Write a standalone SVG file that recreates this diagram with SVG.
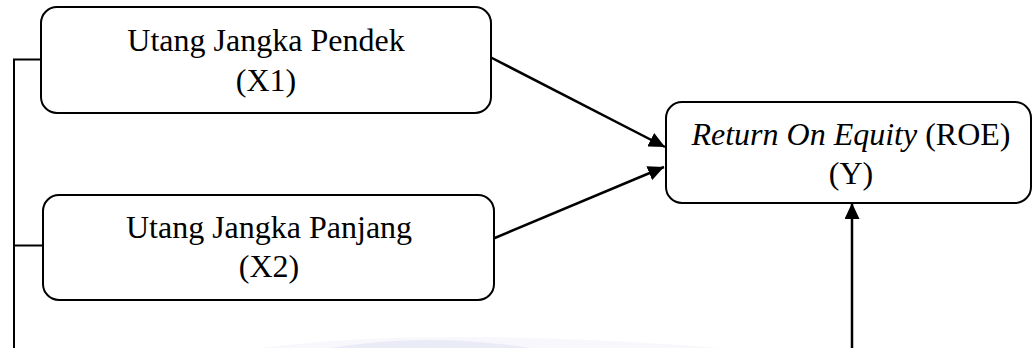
<svg xmlns="http://www.w3.org/2000/svg" width="1033" height="348" viewBox="0 0 1033 348">
  <style>
    .box { fill: #ffffff; stroke: #000000; stroke-width: 2; }
    .lbl { font-family: "Liberation Serif", "Times New Roman", serif; font-size: 32px; fill: #000000; text-anchor: middle; }
    .conn { stroke: #000000; stroke-width: 2; fill: none; }
    .arrow { stroke: #000000; stroke-width: 2.5; fill: none; marker-end: url(#ah); }
  </style>
  <defs>
    <marker id="ah" markerUnits="userSpaceOnUse" markerWidth="17" markerHeight="15" refX="16" refY="7.5" orient="auto">
      <path d="M0,0 L16,7.5 L0,15 z" fill="#000000"/>
    </marker>
  </defs>
  <rect width="1033" height="348" fill="#ffffff"/>
  <g id="watermark" opacity="0.5">
    <path d="M262,348 Q430,326 720,348 Z" fill="#f1f1fb"/>
    <path d="M330,348 Q430,332 530,348 Z" fill="#d9d9f3"/>
  </g>
  <g id="connectors">
    <polyline class="conn" points="41,59.5 14,59.5 14,348"/>
    <line class="conn" x1="14" y1="245.5" x2="43" y2="245.5"/>
    <line class="arrow" x1="491" y1="57.5" x2="665" y2="147"/>
    <line class="arrow" x1="490" y1="240" x2="664" y2="167"/>
    <line class="arrow" x1="852" y1="348" x2="852" y2="203"/>
  </g>
  <g id="node-x1">
    <rect class="box" x="41" y="7" width="450" height="106" rx="16" ry="16"/>
    <text class="lbl" x="266" y="51">Utang Jangka Pendek</text>
    <text class="lbl" x="266" y="91">(X1)</text>
  </g>
  <g id="node-x2">
    <rect class="box" x="43" y="195" width="451" height="105" rx="16" ry="16"/>
    <text class="lbl" x="269" y="238">Utang Jangka Panjang</text>
    <text class="lbl" x="269" y="277">(X2)</text>
  </g>
  <g id="node-y">
    <rect class="box" x="666" y="102" width="365" height="101" rx="16" ry="16"/>
    <text class="lbl" x="851" y="145"><tspan font-style="italic">Return On Equity</tspan> (ROE)</text>
    <text class="lbl" x="851" y="184">(Y)</text>
  </g>
</svg>
